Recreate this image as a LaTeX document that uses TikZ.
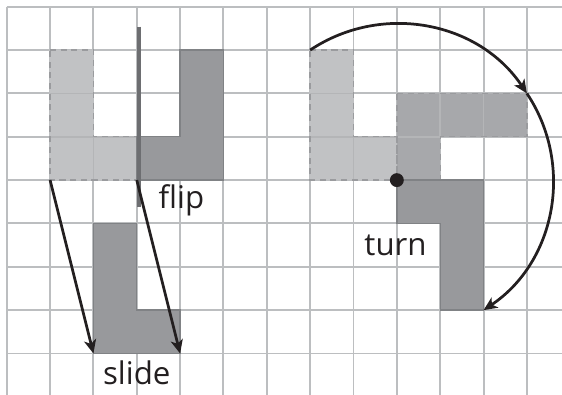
\documentclass[tikz,border=0pt]{standalone}
\usepackage{fontspec}
\setmainfont{Open Sans}
\usetikzlibrary{arrows.meta}
\definecolor{gridc}{HTML}{BCBEC0}
\definecolor{lightc}{HTML}{C1C2C4}
\definecolor{midc}{HTML}{A7A8AB}
\definecolor{darkc}{HTML}{98999C}
\definecolor{edgec}{HTML}{808285}
\definecolor{dashc}{HTML}{9A9B9E}
\definecolor{mirrorc}{HTML}{6D6E71}
\definecolor{inkc}{HTML}{231F20}
\definecolor{innerc}{HTML}{B4B5B7}
\tikzset{
  gridline/.style={draw=gridc, line width=1.3pt},
  innergrid/.style={draw=innerc, line width=1.1pt},
  ghost/.style={fill=lightc, draw=dashc, dash pattern=on 4pt off 3pt, line width=0.9pt},
  midshape/.style={fill=midc, draw=dashc, dash pattern=on 4pt off 3pt, line width=0.9pt},
  solidshape/.style={fill=darkc, draw=edgec, line width=0.9pt},
  move/.style={draw=inkc, line width=1.8pt, -{Stealth[length=9pt,width=8pt,inset=2.5pt]}},
  lbl/.style={font=\fontsize{20.5}{24}\selectfont, text=inkc, inner sep=0pt},
}
\begin{document}
\begin{tikzpicture}[x=1cm,y=-1cm]
\useasboundingbox (-0.155,-0.155) rectangle (12.81,8.957);
% grid
\foreach \i in {0,...,12} \draw[gridline] (\i,0) -- (\i,8.957);
\foreach \j in {0,...,8} \draw[gridline] (0,\j) -- (12.81,\j);
% ghost shapes with grid showing through
\fill[lightc] (1,1) -- (2,1) -- (2,3) -- (3,3) -- (3,4) -- (1,4) -- cycle;
\fill[lightc] (7,1) -- (8,1) -- (8,3) -- (9,3) -- (9,4) -- (7,4) -- cycle;
\fill[midc] (9,2) -- (12,2) -- (12,3) -- (10,3) -- (10,4) -- (9,4) -- cycle;
\draw[innergrid] (1,2) -- (2,2) (1,3) -- (3,3) (2,3) -- (2,4);
\draw[innergrid] (7,2) -- (8,2) (7,3) -- (9,3) (8,3) -- (8,4);
\draw[innergrid] (10,2) -- (10,3) (11,2) -- (11,3) (9,3) -- (10,3);
\draw[ghost, fill=none] (1,1) -- (2,1) -- (2,3) -- (3,3) -- (3,4) -- (1,4) -- cycle;
\draw[ghost, fill=none] (7,1) -- (8,1) -- (8,3) -- (9,3) -- (9,4) -- (7,4) -- cycle;
\draw[midshape, fill=none] (9,2) -- (12,2) -- (12,3) -- (10,3) -- (10,4) -- (9,4) -- cycle;
% flip
\draw[solidshape] (4,1) -- (5,1) -- (5,4) -- (3,4) -- (3,3) -- (4,3) -- cycle;
\coordinate (mtop) at (3.05,0.46);
\coordinate (mbot) at (3.05,4.62);
\draw[draw=mirrorc, line width=2.6pt] (mtop) -- (mbot);
% slide
\draw[solidshape] (2,5) -- (3,5) -- (3,7) -- (4,7) -- (4,8) -- (2,8) -- cycle;
\coordinate (s1a) at (1,4);
\coordinate (s1b) at (2,8);
\coordinate (s2a) at (3,4);
\coordinate (s2b) at (4,8);
\draw[move] (s1a) -- (s1b);
\draw[move] (s2a) -- (s2b);
% turn
\draw[solidshape] (9,4) -- (11,4) -- (11,7) -- (10,7) -- (10,5) -- (9,5) -- cycle;
\coordinate (pivot) at (9,4);
\coordinate (t0) at (7,1);
\coordinate (t1) at (12,2);
\fill[inkc] (pivot) circle (0.16);
\draw[move] (t0) arc[start angle=-123.69, end angle=-33.69, radius=3.6056];
\draw[move] (t1) arc[start angle=-33.69, end angle=56.31, radius=3.6056];
% labels
\node[lbl, anchor=base] (flip) at (4.03,4.65) {flip};
\node[lbl, anchor=base] (slide) at (3.0,8.72) {slide};
\node[lbl, anchor=base] (turn) at (8.97,5.75) {turn};
\end{tikzpicture}
\end{document}
